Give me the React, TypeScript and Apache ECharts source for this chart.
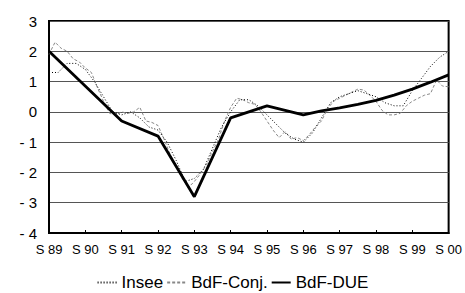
import React, { useEffect, useRef } from "react";
import * as echarts from "echarts";

const xLabels = ["S 89", "S 90", "S 91", "S 92", "S 93", "S 94", "S 95", "S 96", "S 97", "S 98", "S 99", "S 00"];
const yTicks = [-4, -3, -2, -1, 0, 1, 2, 3];

// Insee: quarterly readings (step 0.25 year from S 89)
const inseeStep = 0.25;
const inseeValues = [
  1.3, 1.3, 1.6, 1.6, 1.4, 1.0, 0.5, 0.0,
  -0.1, 0.0, -0.2, -0.5, -0.6, -1.0, -1.6, -2.3,
  -2.2, -1.9, -1.2, -0.5, 0.0, 0.4, 0.4, 0.2,
  -0.1, -0.4, -0.7, -0.9, -1.0, -0.7, -0.2, 0.3,
  0.5, 0.6, 0.7, 0.6, 0.5, 0.3, 0.2, 0.2,
  0.7, 1.1, 1.5, 1.8, 2.0,
];

// BdF-Conj.: bi-monthly readings (step 1/6 year from S 89)
const conjStep = 1 / 6;
const conjValues = [
  1.9, 2.3, 2.1, 2.0, 1.75, 1.65,
  1.45, 1.3, 0.8, 0.35, -0.05, -0.1,
  0.0, -0.05, 0.0, 0.15, -0.3, -0.35,
  -0.45, -0.9, -1.4, -1.8, -2.2, -2.5,
  -2.3, -2.05, -1.75, -1.3, -0.9, -0.3,
  0.15, 0.45, 0.4, 0.3, 0.25, 0.0,
  -0.3, -0.6, -0.85, -0.65, -0.9, -0.85,
  -0.95, -0.75, -0.5, -0.3, 0.1, 0.35,
  0.45, 0.55, 0.65, 0.75, 0.72, 0.55,
  0.35, 0.05, -0.1, -0.1, -0.05, 0.2,
  0.35, 0.45, 0.55, 0.6, 1.05, 0.85,
  0.83,
];

// BdF-DUE
const dueX = [0, 2, 3, 4, 5, 6, 7, 7.5, 8, 8.5, 9, 9.5, 10, 10.5, 11];
const dueY = [2.0, -0.3, -0.8, -2.8, -0.2, 0.2, -0.1, 0.03, 0.13, 0.25, 0.38, 0.55, 0.75, 0.98, 1.22];

const FONT = "Arial, 'Liberation Sans', sans-serif";

export default function App() {
  const ref = useRef<HTMLDivElement>(null);
  useEffect(() => {
    if (!ref.current) return;
    const chart = echarts.init(ref.current, null, { renderer: "svg" });
    const inseeData = inseeValues.map((v, i) => [i * inseeStep, v]);
    const conjData = conjValues.map((v, i) => [i * conjStep, v]);
    const dueData = dueX.map((x, i) => [x, dueY[i]]);
    chart.setOption({
      animation: false,
      backgroundColor: "#fff",
      grid: {
        left: 49,
        right: 14,
        top: 21,
        bottom: 60,
        show: true,
        borderColor: "#000",
        borderWidth: 2,
        backgroundColor: "transparent",
      },
      legend: {
        top: 274,
        left: "center",
        padding: 0,
        itemWidth: 19,
        itemHeight: 14,
        itemGap: 3,
        itemStyle: { opacity: 0 },
        textStyle: { fontFamily: FONT, fontSize: 17, color: "#000" },
        data: ["Insee", "BdF-Conj.", "BdF-DUE"],
      },
      xAxis: {
        type: "value",
        min: 0,
        max: 11,
        interval: 1,
        axisLine: { show: true, onZero: false, lineStyle: { color: "#000", width: 2 } },
        axisTick: { show: true, inside: true, length: 3, lineStyle: { color: "#000" } },
        splitLine: { show: false },
        axisLabel: {
          fontFamily: FONT,
          fontSize: 13,
          color: "#000",
          margin: 10,
          formatter: (v: number) => xLabels[Math.round(v)] ?? "",
        },
      },
      yAxis: {
        type: "value",
        min: yTicks[0],
        max: yTicks[yTicks.length - 1],
        interval: 1,
        axisLine: { show: true, onZero: false, lineStyle: { color: "#000", width: 2 } },
        axisTick: { show: false },
        splitLine: { show: true, lineStyle: { color: "#555", width: 1 } },
        axisLabel: {
          fontFamily: FONT,
          fontSize: 15,
          color: "#000",
          margin: 12,
          formatter: (v: number) => (v < 0 ? "- " + Math.abs(v) : String(v)),
        },
      },
      series: [
        {
          name: "Insee",
          type: "line",
          data: inseeData,
          symbol: "none",
          lineStyle: { color: "#000", width: 1, type: [1, 2] },
          itemStyle: { color: "#000" },
          z: 3,
        },
        {
          name: "BdF-Conj.",
          type: "line",
          data: conjData,
          symbol: "none",
          lineStyle: { color: "#888", width: 1, type: [3, 2] },
          itemStyle: { color: "#888" },
          z: 2,
        },
        {
          name: "BdF-DUE",
          type: "line",
          data: dueData,
          symbol: "none",
          lineStyle: { color: "#000", width: 2.8 },
          itemStyle: { color: "#000" },
          z: 4,
        },
      ],
    });
    return () => chart.dispose();
  }, []);
  return (
    <div
      ref={ref}
      style={{ position: "fixed", left: 0, top: 0, width: 465, height: 293 }}
    />
  );
}
